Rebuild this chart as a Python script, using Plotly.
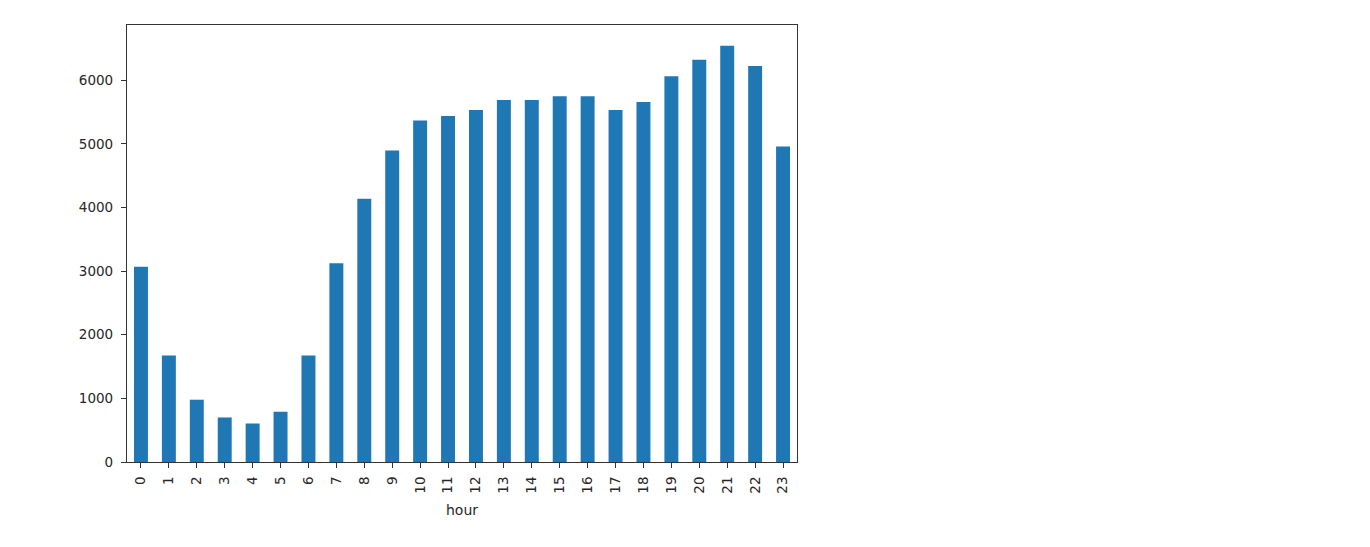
import plotly.graph_objects as go

hours = [str(h) for h in range(24)]
counts = [3068, 1674, 979, 700, 605, 790, 1674, 3126, 4137, 4895, 5369, 5437,
          5532, 5690, 5690, 5748, 5748, 5532, 5658, 6064, 6321, 6542, 6226, 4958]
y_ticks = [0, 1000, 2000, 3000, 4000, 5000, 6000]

fig = go.Figure(go.Bar(x=hours, y=counts, marker_color="#1f77b4",
                       marker_line_width=0, width=0.5))

fig.update_layout(
    width=1370, height=547,
    margin=dict(l=119, r=581, t=17, b=93, autoexpand=False),
    paper_bgcolor="white", plot_bgcolor="white",
    font=dict(family="DejaVu Sans, sans-serif", size=13.5, color="#262626"),
    showlegend=False, bargap=0.5,
)
fig.update_xaxes(
    type="category", range=[-0.5, 23.5], tickangle=-90,
    showline=True, linecolor="#333", linewidth=1.2, mirror=True,
    ticks="outside", ticklen=5, tickcolor="#333", showgrid=False,
    ticklabelstandoff=3,
    title=dict(text="hour", standoff=12, font=dict(size=14)),
)
fig.update_yaxes(
    range=[0, max(counts) * 1.05], tickvals=y_ticks,
    showline=True, linecolor="#333", linewidth=1.2, mirror=True,
    ticks="outside", ticklen=5, tickcolor="#333", showgrid=False, zeroline=False,
    ticklabelstandoff=5,
)
fig.write_html("out.html")
